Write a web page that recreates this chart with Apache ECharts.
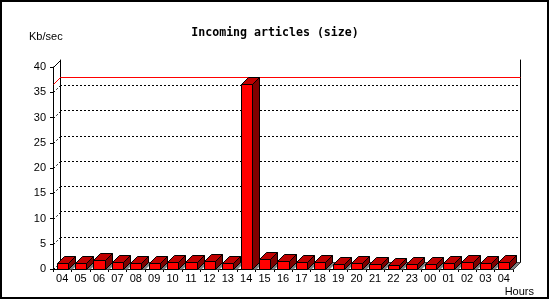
<!DOCTYPE html>
<html><head><meta charset="utf-8">
<script src="https://cdn.jsdelivr.net/npm/echarts@6/dist/echarts.min.js"></script>
<style>html,body{margin:0;padding:0;background:#fff}#c{width:550px;height:300px}</style>
</head><body><div id="c"></div>
<script>
const hours = ['04','05','06','07','08','09','10','11','12','13','14','15','16','17','18','19','20','21','22','23','00','01','02','03','04'];
const sizeKbps = [1.2,1.2,1.8,1.45,1.2,1.2,1.4,1.4,1.65,1.2,36.6,2.0,1.65,1.4,1.4,1.0,1.2,1.0,0.8,1.0,1.0,1.2,1.4,1.2,1.4];
const yTicks = [0,5,10,15,20,25,30,35,40];
const yMin = 0, yMax = 40, yStep = 5;

const D = 7;               // 3D depth in px
const LBL = {fontFamily:'Liberation Sans', fontSize:11, color:'#000'};
const px = v => Math.round(v) + 0.5;

const chart = echarts.init(document.getElementById('c'), null, {renderer:'canvas'});

function renderBar(params, api){
  const i = api.value(0), v = api.value(1);
  const base = api.coord([i, 0]);
  const top = api.coord([i, v]);
  const band = api.size([1, 0])[0];
  const w = band * 0.61;
  const x1 = px(base[0] - w/2), x2 = px(base[0] + w/2);
  const y0 = px(base[1]), yt = px(top[1]);
  return {type:'group', children:[
    {type:'polygon', shape:{points:[[x2,y0],[x2+D,y0-D],[x2+D+4,y0-D],[x2+4,y0]]}, style:{fill:'#808080'}},
    {type:'polygon', shape:{points:[[x2,yt],[x2+D,yt-D],[x2+D,y0-D],[x2,y0]]}, style:{fill:'#800000', stroke:'#000', lineWidth:1}},
    {type:'polygon', shape:{points:[[x1,yt],[x1+D,yt-D],[x2+D,yt-D],[x2,yt]]}, style:{fill:'#c00000', stroke:'#000', lineWidth:1}},
    {type:'rect', shape:{x:x1, y:yt, width:x2-x1, height:y0-yt}, style:{fill:'#ff0000', stroke:'#000', lineWidth:1}}
  ]};
}

function renderSideTicks(params, api){
  const v = api.value(0);
  const cs = params.coordSys;
  const p = api.coord([0, v]);
  const x = px(cs.x), y = px(p[1]);
  const children = [{type:'line', shape:{x1:x, y1:y, x2:x+D, y2:y-D},
    style:{stroke:'#000', lineWidth:1, lineDash: (v === yMax ? null : [2,2])}}];
  if (v === yMin) {
    const xr = px(cs.x + cs.width);
    children.push({type:'line', shape:{x1:xr, y1:y, x2:xr+D, y2:y-D}, style:{stroke:'#000', lineWidth:1}});
  }
  return {type:'group', children};
}

function renderMaxLine(params, api){
  const v = api.value(0);
  const cs = params.coordSys;
  const p = api.coord([0, v]);
  const x = px(cs.x), y = px(p[1]);
  return {type:'polyline', shape:{points:[[x,y],[x+D,y-D],[x+D+cs.width,y-D]]},
    style:{stroke:'#ff0000', lineWidth:1, fill:null}};
}

const maxVal = Math.max(...sizeKbps);

chart.setOption({
  animation:false,
  backgroundColor:'#fff',
  title:{text:'Incoming articles (size)', left:'center', top:21,
    textStyle:{fontFamily:'DejaVu Sans Mono', fontWeight:'bold', fontSize:11.6, color:'#000', lineHeight:14}},
  graphic:[
    {type:'rect', shape:{x:1, y:1, width:547, height:297}, style:{fill:null, stroke:'#000', lineWidth:2}, z:100},
    {type:'text', x:29, y:37, style:{text:'Kb/sec', ...LBL, fill:'#000', verticalAlign:'middle', align:'left', font:'11px "Liberation Sans"'}},
    {type:'text', x:534, y:292, style:{text:'Hours', fill:'#000', verticalAlign:'middle', align:'right', font:'11px "Liberation Sans"'}}
  ],
  grid:[
    {left:53, top:67, width:460, height:202},
    {left:60, top:60, width:460, height:202}
  ],
  xAxis:[
    {gridIndex:0, type:'category', data:hours, boundaryGap:true,
      axisLine:{show:true, lineStyle:{color:'#000', width:1}},
      axisTick:{show:true, length:3, inside:false, lineStyle:{color:'#000'}},
      axisLabel:{...LBL, margin:4, interval:0},
      splitLine:{show:false}},
    {gridIndex:1, type:'category', data:hours, position:'top',
      axisLine:{show:true, lineStyle:{color:'#000', width:1}},
      axisTick:{show:false}, axisLabel:{show:false}, splitLine:{show:false}}
  ],
  yAxis:[
    {gridIndex:0, type:'value', min:yMin, max:yMax, interval:yStep,
      axisLine:{show:true, lineStyle:{color:'#000', width:1}},
      axisTick:{show:true, length:3, lineStyle:{color:'#000'}},
      axisLabel:{...LBL, margin:7},
      splitLine:{show:false}},
    {gridIndex:1, type:'value', min:yMin, max:yMax, interval:yStep, position:'left',
      axisLine:{show:true, lineStyle:{color:'#000', width:1}},
      axisTick:{show:false}, axisLabel:{show:false},
      splitLine:{show:true, showMinLine:false, showMaxLine:false, lineStyle:{color:'#000', type:[2,2], width:1}}},
    {gridIndex:1, type:'value', min:yMin, max:yMax, interval:yStep, position:'right',
      axisLine:{show:true, lineStyle:{color:'#000', width:1}},
      axisTick:{show:false}, axisLabel:{show:false}, splitLine:{show:false}}
  ],
  series:[
    {type:'custom', xAxisIndex:0, yAxisIndex:0, data:yTicks.map(v=>[v]), renderItem:renderSideTicks, z:2, silent:true},
    {type:'custom', xAxisIndex:0, yAxisIndex:0, data:[[maxVal]], renderItem:renderMaxLine, z:3, silent:true},
    {type:'custom', xAxisIndex:0, yAxisIndex:0, data:sizeKbps.map((v,i)=>[i,v]), renderItem:renderBar, z:5, silent:true}
  ]
});
</script>
</body></html>
